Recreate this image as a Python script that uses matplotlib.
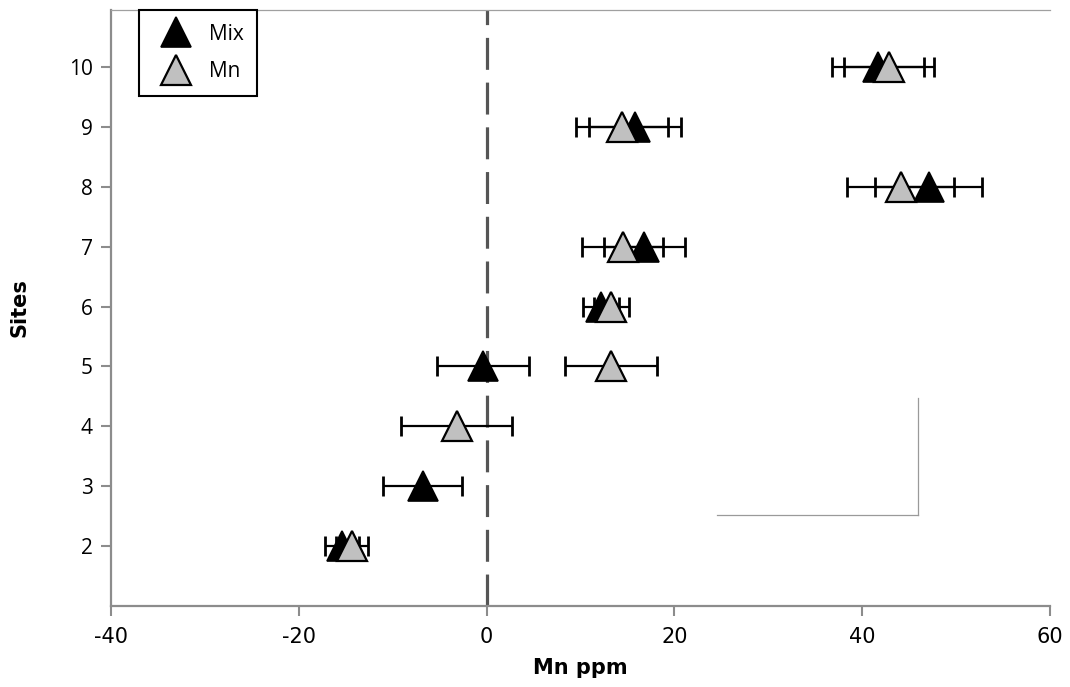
import numpy as np
import matplotlib
matplotlib.use("Agg")
import matplotlib.pyplot as plt
from matplotlib.lines import Line2D

# values (Mn ppm, mean and error half-width per site)
sites = [2, 3, 4, 5, 6, 7, 8, 9, 10]
mix = [-15.4, -6.8, np.nan, -0.4, 12.2, 16.8, 47.1, 15.8, 41.7]
mix_err = [1.8, 4.2, np.nan, 4.9, 1.9, 4.3, 5.7, 4.9, 4.9]
mn = [-14.3, np.nan, -3.2, 13.3, 13.3, 14.5, 44.1, 14.4, 42.9]
mn_err = [1.7, np.nan, 5.9, 4.9, 1.9, 4.3, 5.7, 4.9, 4.8]
x_ticks = [-40, -20, 0, 20, 40, 60]

fig = plt.figure(figsize=(10.7, 6.87), dpi=100)
ax = fig.add_axes([0.1037, 0.1179, 0.8776, 0.8675])

axis_grey = "#8c8c8c"

# zero reference line
ax.axvline(0, color="#555555", lw=2.3, linestyle=(0, (10, 4)), zorder=1)

# error bars then markers, Mix under Mn
ax.errorbar(mix, sites, xerr=mix_err, fmt="none", ecolor="black",
            elinewidth=1.6, capsize=7.5, capthick=2, zorder=2)
ax.errorbar(mn, sites, xerr=mn_err, fmt="none", ecolor="black",
            elinewidth=1.6, capsize=7.5, capthick=2, zorder=2)
ax.plot(mix, sites, linestyle="none", marker="^", markersize=22,
        markerfacecolor="black", markeredgecolor="black", markeredgewidth=1.2,
        label="Mix", zorder=3)
ax.plot(mn, sites, linestyle="none", marker="^", markersize=22,
        markerfacecolor="#c0c0c0", markeredgecolor="black", markeredgewidth=1.6,
        label="Mn", zorder=4)

ax.set_xlim(-40, 60)
ax.set_ylim(1, 10.95)
ax.set_xticks(x_ticks)
ax.set_xticklabels([str(t) for t in x_ticks])
ax.set_yticks(sites)
ax.set_yticklabels([str(s) for s in sites], family="Open Sans")
ax.tick_params(axis="both", labelsize=15, color=axis_grey, width=1.5,
               length=7, direction="out")
ax.tick_params(axis="x", pad=8)
ax.tick_params(axis="y", pad=6)

for side in ["left", "bottom"]:
    ax.spines[side].set_color(axis_grey)
    ax.spines[side].set_linewidth(1.6)
ax.spines["top"].set_color("#a0a0a0")
ax.spines["top"].set_linewidth(0.9)
ax.spines["right"].set_visible(False)

ax.set_xlabel("Mn ppm", fontsize=15, fontweight="bold", va="center")
ax.set_ylabel("Sites", fontsize=15, fontweight="bold", va="center")
ax.xaxis.set_label_coords(0.5, -0.104)
ax.yaxis.set_label_coords(-0.097, 0.5)

leg = ax.legend(loc="upper left", bbox_to_anchor=(0.0298, 1.0),
                borderaxespad=0, frameon=True,
                fancybox=False, edgecolor="black", framealpha=1,
                prop={"family": "Open Sans", "size": 15},
                handletextpad=0.4, borderpad=0.65, labelspacing=0.8,
                handlelength=2.3, markerscale=1.0)
leg.get_frame().set_linewidth(1.5)

# stray grey box outline present in the original image
fig.add_artist(Line2D([918 / 1070, 918 / 1070], [1 - 398 / 687, 1 - 515 / 687],
                      color="#9a9a9a", lw=0.9))
fig.add_artist(Line2D([717 / 1070, 918 / 1070], [1 - 515 / 687, 1 - 515 / 687],
                      color="#9a9a9a", lw=0.9))

fig.savefig("out.png", dpi=100)
